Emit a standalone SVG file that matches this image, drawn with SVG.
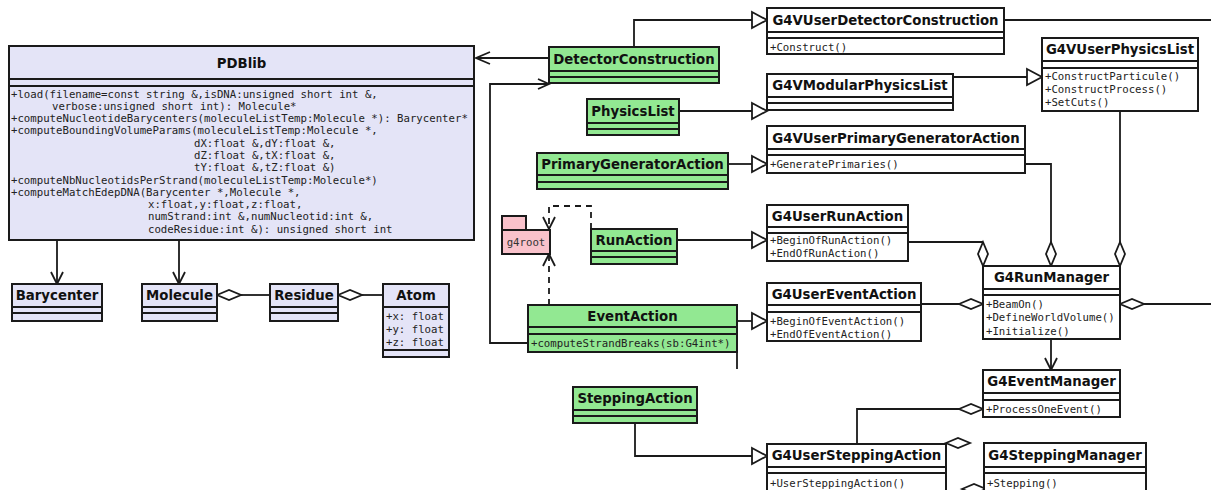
<svg xmlns="http://www.w3.org/2000/svg" width="1211" height="490" viewBox="0 0 1211 490">
<style>
.bx{stroke:#1a1a1a;stroke-width:2}
.gr{fill:#92e892}.wh{fill:#ffffff}.lv{fill:#e4e4f7}.pk{fill:#f9c2cb}
.sep{stroke:#1a1a1a;stroke-width:2}
.t{font-family:"DejaVu Sans",sans-serif;font-weight:bold;font-size:13.3px;text-anchor:middle;fill:#111}
.m{font-family:"DejaVu Sans Mono",monospace;font-size:10.7px;fill:#222}
.c{fill:none;stroke:#1a1a1a;stroke-width:1.8}
.d{fill:none;stroke:#1a1a1a;stroke-width:1.8;stroke-dasharray:6,5}
.tri{fill:#fff;stroke:#1a1a1a;stroke-width:1.8}
.dia{fill:#fff;stroke:#1a1a1a;stroke-width:1.8}
</style>
<rect width="1211" height="490" fill="#fff"/>
<g id="connectors">
<polyline class="c" points="549,58 476,58"/><polyline class="c" points="490,52 476,58 490,64"/>
<polyline class="c" points="634,47 634,20 752,20"/><polygon class="tri" points="752,12 767,20 752,28"/>
<polyline class="c" points="528,343 490,343 490,84 549,84"/><polyline class="c" points="538,79 549,84 538,89"/>
<polyline class="c" points="679,111 752,111"/><polygon class="tri" points="752,103 767,111 752,119"/>
<polyline class="c" points="953,77 1027,77"/><polygon class="tri" points="1027,69 1042,77 1027,85"/>
<polyline class="c" points="728,164 752,164"/><polygon class="tri" points="752,156 767,164 752,172"/>
<polyline class="c" points="677,240 752,240"/><polygon class="tri" points="752,232 767,240 752,248"/>
<polyline class="c" points="737,321 752,321"/><polygon class="tri" points="752,313 767,321 752,329"/>
<polyline class="c" points="635,423 635,456 752,456"/><polygon class="tri" points="752,448 767,456 752,464"/>
<polyline class="c" points="857,444 857,409 959,409"/><polygon class="dia" points="959,409 971,404 983,409 971,414"/>
<polyline class="c" points="1051,339 1051,370"/><polyline class="c" points="1045,358 1051,370 1057,358"/>
<polyline class="c" points="908,242 983,242"/><polygon class="dia" points="983,242 988,254 983,266 978,254"/>
<polyline class="c" points="1025,164 1051,164 1051,242"/><polygon class="dia" points="1051,242 1056,254 1051,266 1046,254"/>
<polyline class="c" points="1120,111 1120,242"/><polygon class="dia" points="1120,242 1125,254 1120,266 1115,254"/>
<polyline class="c" points="921,304 959,304"/><polygon class="dia" points="959,304 971,299 983,304 971,309"/>
<polygon class="dia" points="1120,304 1132,299 1144,304 1132,309"/><polyline class="c" points="1144,304 1211,304"/>
<polyline class="c" points="1004,20 1211,20"/>
<polyline class="c" points="57,240 57,284"/><polyline class="c" points="51,272 57,284 63,272"/>
<polyline class="c" points="179,240 179,284"/><polyline class="c" points="173,272 179,284 185,272"/>
<polygon class="dia" points="217,295 229,290 241,295 229,300"/><polyline class="c" points="241,295 270,295"/>
<polygon class="dia" points="338,295 350,290 362,295 350,300"/><polyline class="c" points="362,295 383,295"/>
<polyline class="d" points="591,229 591,206 549,206 549,229"/><polyline class="c" points="543,217 549,229 555,217"/>
<polyline class="d" points="549,305 549,256"/><polyline class="c" points="543,266 549,254 555,266"/>
<polyline class="c" points="737,352 737,369"/>
<polygon class="dia" points="946,443 958,438 970,443 958,448"/>
<polygon class="dia" points="962,489 974,484 986,489 974,494"/>
</g>
<g id="PDBlib">
<rect class="bx lv" x="9" y="46" width="465" height="194"/>
<line class="sep" x1="9" y1="79" x2="474" y2="79"/><line class="sep" x1="9" y1="86" x2="474" y2="86"/>
<text class="t" x="241.5" y="68">PDBlib</text>
<text class="m" x="11" y="97.5">+load(filename=const string &amp;,isDNA:unsigned short int &amp;,</text>
<text class="m" x="52" y="109.8">verbose:unsigned short int): Molecule*</text>
<text class="m" x="11" y="122.1">+computeNucleotideBarycenters(moleculeListTemp:Molecule *): Barycenter*</text>
<text class="m" x="11" y="134.3">+computeBoundingVolumeParams(moleculeListTemp:Molecule *,</text>
<text class="m" x="194" y="146.6">dX:float &amp;,dY:float &amp;,</text>
<text class="m" x="194" y="158.9">dZ:float &amp;,tX:float &amp;,</text>
<text class="m" x="194" y="171.2">tY:float &amp;,tZ:float &amp;)</text>
<text class="m" x="11" y="183.5">+computeNbNucleotidsPerStrand(moleculeListTemp:Molecule*)</text>
<text class="m" x="11" y="195.7">+computeMatchEdepDNA(Barycenter *,Molecule *,</text>
<text class="m" x="148" y="208">x:float,y:float,z:float,</text>
<text class="m" x="148" y="220.3">numStrand:int &amp;,numNucleotid:int &amp;,</text>
<text class="m" x="148" y="232.6">codeResidue:int &amp;): unsigned short int</text>
</g>
<g id="Barycenter">
<rect class="bx lv" x="12" y="284" width="90" height="37"/>
<line class="sep" x1="12" y1="307" x2="102" y2="307"/><line class="sep" x1="12" y1="313" x2="102" y2="313"/>
<text class="t" x="57" y="300">Barycenter</text>
</g>
<g id="Molecule">
<rect class="bx lv" x="142" y="284" width="75" height="37"/>
<line class="sep" x1="142" y1="307" x2="217" y2="307"/><line class="sep" x1="142" y1="313" x2="217" y2="313"/>
<text class="t" x="179.5" y="300">Molecule</text>
</g>
<g id="Residue">
<rect class="bx lv" x="270" y="284" width="68" height="37"/>
<line class="sep" x1="270" y1="307" x2="338" y2="307"/><line class="sep" x1="270" y1="313" x2="338" y2="313"/>
<text class="t" x="304" y="300">Residue</text>
</g>
<g id="Atom">
<rect class="bx lv" x="383" y="284" width="66" height="73"/>
<line class="sep" x1="383" y1="307" x2="449" y2="307"/><line class="sep" x1="383" y1="350" x2="449" y2="350"/>
<text class="t" x="416" y="300">Atom</text>
<text class="m" x="386" y="319.5">+x: float</text>
<text class="m" x="386" y="332.5">+y: float</text>
<text class="m" x="386" y="345.5">+z: float</text>
</g>
<g id="DetectorConstruction">
<rect class="bx gr" x="549" y="47" width="170" height="36"/>
<line class="sep" x1="549" y1="71" x2="719" y2="71"/><line class="sep" x1="549" y1="77" x2="719" y2="77"/>
<text class="t" x="634" y="63.5">DetectorConstruction</text>
</g>
<g id="PhysicsList">
<rect class="bx gr" x="587" y="99" width="92" height="36"/>
<line class="sep" x1="587" y1="123" x2="679" y2="123"/><line class="sep" x1="587" y1="129" x2="679" y2="129"/>
<text class="t" x="633" y="115.5">PhysicsList</text>
</g>
<g id="PrimaryGeneratorAction">
<rect class="bx gr" x="537" y="153" width="191" height="36"/>
<line class="sep" x1="537" y1="175" x2="728" y2="175"/><line class="sep" x1="537" y1="182" x2="728" y2="182"/>
<text class="t" x="632.5" y="168.5">PrimaryGeneratorAction</text>
</g>
<g id="RunAction">
<rect class="bx gr" x="591" y="229" width="86" height="35"/>
<line class="sep" x1="591" y1="251" x2="677" y2="251"/><line class="sep" x1="591" y1="257" x2="677" y2="257"/>
<text class="t" x="634" y="244.5">RunAction</text>
</g>
<g id="EventAction">
<rect class="bx gr" x="528" y="305" width="209" height="47"/>
<line class="sep" x1="528" y1="327" x2="737" y2="327"/><line class="sep" x1="528" y1="334" x2="737" y2="334"/>
<text class="t" x="632.5" y="320.5">EventAction</text>
<text class="m" x="531" y="346.5">+computeStrandBreaks(sb:G4int*)</text>
</g>
<g id="SteppingAction">
<rect class="bx gr" x="573" y="387" width="124" height="36"/>
<line class="sep" x1="573" y1="410" x2="697" y2="410"/><line class="sep" x1="573" y1="416" x2="697" y2="416"/>
<text class="t" x="635" y="402.5">SteppingAction</text>
</g>
<g id="g4root">
<rect class="bx pk" x="502" y="216" width="24" height="14"/>
<rect class="bx pk" x="502" y="230" width="48" height="24"/>
<text class="m" x="526" y="245.5" text-anchor="middle" style="fill:#333">g4root</text>
</g>
<g id="G4VUserDetectorConstruction">
<rect class="bx wh" x="767" y="8" width="237" height="46"/>
<line class="sep" x1="767" y1="32" x2="1004" y2="32"/><line class="sep" x1="767" y1="38" x2="1004" y2="38"/>
<text class="t" x="885.5" y="25">G4VUserDetectorConstruction</text>
<text class="m" x="770" y="50.5">+Construct()</text>
</g>
<g id="G4VUserPhysicsList">
<rect class="bx wh" x="1042" y="38" width="156" height="73"/>
<line class="sep" x1="1042" y1="61" x2="1198" y2="61"/><line class="sep" x1="1042" y1="68" x2="1198" y2="68"/>
<text class="t" x="1120" y="54">G4VUserPhysicsList</text>
<text class="m" x="1045" y="80">+ConstructParticule()</text>
<text class="m" x="1045" y="93">+ConstructProcess()</text>
<text class="m" x="1045" y="106">+SetCuts()</text>
</g>
<g id="G4VModularPhysicsList">
<rect class="bx wh" x="767" y="74" width="186" height="36"/>
<line class="sep" x1="767" y1="97" x2="953" y2="97"/><line class="sep" x1="767" y1="103" x2="953" y2="103"/>
<text class="t" x="860" y="90">G4VModularPhysicsList</text>
</g>
<g id="G4VUserPrimaryGeneratorAction">
<rect class="bx wh" x="767" y="126" width="258" height="47"/>
<line class="sep" x1="767" y1="149" x2="1025" y2="149"/><line class="sep" x1="767" y1="155" x2="1025" y2="155"/>
<text class="t" x="896" y="142.5">G4VUserPrimaryGeneratorAction</text>
<text class="m" x="770" y="167.5">+GeneratePrimaries()</text>
</g>
<g id="G4UserRunAction">
<rect class="bx wh" x="767" y="205" width="141" height="56"/>
<line class="sep" x1="767" y1="227" x2="908" y2="227"/><line class="sep" x1="767" y1="233" x2="908" y2="233"/>
<text class="t" x="837.5" y="221">G4UserRunAction</text>
<text class="m" x="770" y="243.5">+BeginOfRunAction()</text>
<text class="m" x="770" y="257">+EndOfRunAction()</text>
</g>
<g id="G4RunManager">
<rect class="bx wh" x="983" y="266" width="137" height="73"/>
<line class="sep" x1="983" y1="289" x2="1120" y2="289"/><line class="sep" x1="983" y1="295" x2="1120" y2="295"/>
<text class="t" x="1051.5" y="282">G4RunManager</text>
<text class="m" x="986" y="307.5">+BeamOn()</text>
<text class="m" x="986" y="321">+DefineWorldVolume()</text>
<text class="m" x="986" y="334.5">+Initialize()</text>
</g>
<g id="G4UserEventAction">
<rect class="bx wh" x="767" y="283" width="154" height="58"/>
<line class="sep" x1="767" y1="305" x2="921" y2="305"/><line class="sep" x1="767" y1="312" x2="921" y2="312"/>
<text class="t" x="844" y="299">G4UserEventAction</text>
<text class="m" x="770" y="324.5">+BeginOfEventAction()</text>
<text class="m" x="770" y="337.5">+EndOfEventAction()</text>
</g>
<g id="G4EventManager">
<rect class="bx wh" x="983" y="370" width="137" height="47"/>
<line class="sep" x1="983" y1="393" x2="1120" y2="393"/><line class="sep" x1="983" y1="400" x2="1120" y2="400"/>
<text class="t" x="1051.5" y="386">G4EventManager</text>
<text class="m" x="986" y="412.5">+ProcessOneEvent()</text>
</g>
<g id="G4UserSteppingAction">
<rect class="bx wh" x="767" y="444" width="179" height="60"/>
<line class="sep" x1="767" y1="467" x2="946" y2="467"/><line class="sep" x1="767" y1="473" x2="946" y2="473"/>
<text class="t" x="856.5" y="460">G4UserSteppingAction</text>
<text class="m" x="770" y="486.5">+UserSteppingAction()</text>
</g>
<g id="G4SteppingManager">
<rect class="bx wh" x="984" y="443" width="162" height="60"/>
<line class="sep" x1="984" y1="467" x2="1146" y2="467"/><line class="sep" x1="984" y1="473" x2="1146" y2="473"/>
<text class="t" x="1065" y="460">G4SteppingManager</text>
<text class="m" x="987" y="486.5">+Stepping()</text>
</g>
</svg>
